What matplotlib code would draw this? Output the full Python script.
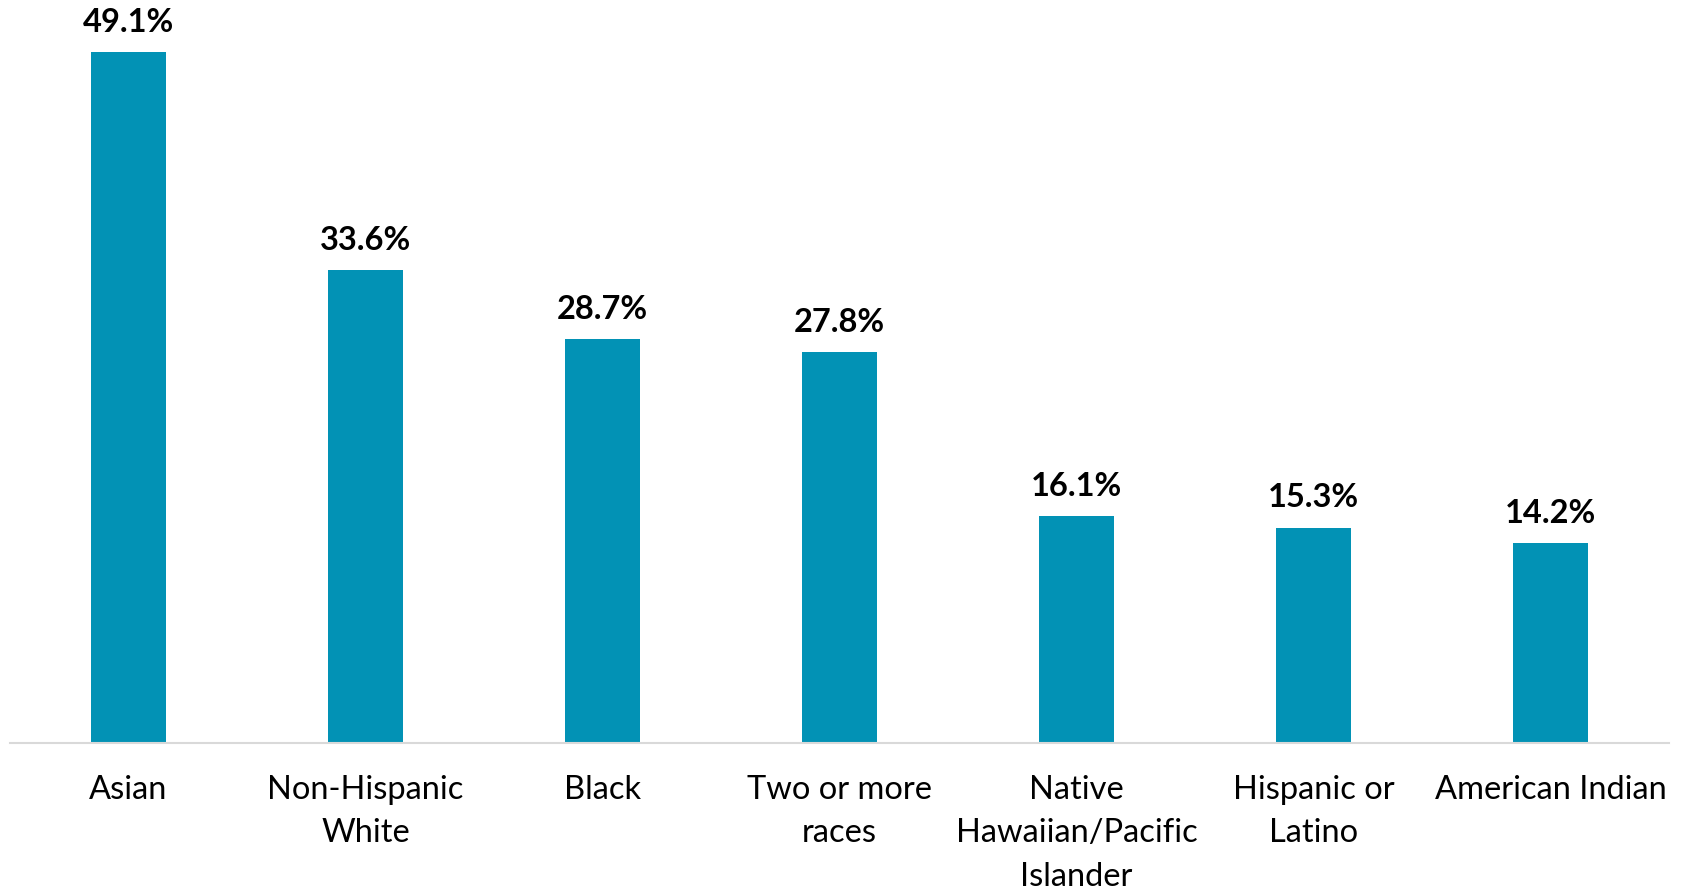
import matplotlib
matplotlib.use('Agg')
import matplotlib.pyplot as plt

CATEGORIES = ['Asian', 'Non-Hispanic\nWhite', 'Black', 'Two or more\nraces',
              'Native\nHawaiian/Pacific\nIslander', 'Hispanic or\nLatino',
              'American Indian']
VALUES = [49.1, 33.6, 28.7, 27.8, 16.1, 15.3, 14.2]

BAR_COLOR = '#0292B5'
AXIS_COLOR = '#D9D9D9'

plt.rcParams['font.family'] = ['Lato', 'DejaVu Sans']

fig = plt.figure(figsize=(16.85, 8.9), dpi=100)
ax = fig.add_axes([10 / 1685, 147 / 890, 1659 / 1685, 743 / 890])

x = range(len(CATEGORIES))
bars = ax.bar(x, VALUES, width=0.316, color=BAR_COLOR)

for bar, val in zip(bars, VALUES):
    ax.annotate(f'{val:.1f}%', (bar.get_x() + bar.get_width() / 2, val),
                xytext=(0, 11), textcoords='offset points',
                ha='center', va='bottom', fontsize=23.5, fontweight='bold')

ax.set_xlim(-0.5, len(CATEGORIES) - 0.5)
ax.set_ylim(0, 52.8)
ax.set_xticks(list(x))
ax.set_xticklabels(CATEGORIES, fontsize=23.5, linespacing=1.56)
ax.tick_params(axis='x', length=0, pad=23)
ax.set_yticks([])
for side in ['top', 'right', 'left']:
    ax.spines[side].set_visible(False)
ax.spines['bottom'].set_color(AXIS_COLOR)
ax.spines['bottom'].set_linewidth(1.5)

fig.savefig('out.png', dpi=100)
